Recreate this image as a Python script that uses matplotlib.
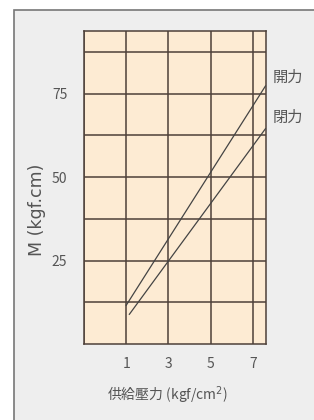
import matplotlib
matplotlib.use('Agg')
import matplotlib.pyplot as plt
from matplotlib.patches import Rectangle

plt.rcParams['font.family'] = ['Noto Sans CJK JP', 'DejaVu Sans']

# 供給壓力 (kgf/cm2) と トルク M (kgf.cm)
open_x = [1.0, 7.6]
open_m = [11.6, 77.3]
close_x = [1.15, 7.6]
close_m = [8.9, 64.5]
labels = ['開力', '閉力']
x_grid = [-1, 1, 3, 5, 7]
x_labels = ['', '1', '3', '5', '7']
y_grid = [12.5, 25, 37.5, 50, 62.5, 75, 87.5]
y_labels = ['', '25', '', '50', '', '75', '']

grid_c = '#4d4039'
text_c = '#555555'

fig = plt.figure(figsize=(3.14, 4.2), dpi=100)
fig.patch.set_facecolor('white')
# 外枠
fig.patches.append(Rectangle((14/314, -0.01), 1.0, 1 - 10/420 + 0.01, transform=fig.transFigure,
                             facecolor='#eeeeee', edgecolor='#777777', linewidth=1.2, zorder=-1))

ax = fig.add_axes([84/314, 1 - 344/420, 181.5/314, 313/420])
ax.set_zorder(1)
ax.set_facecolor('#fdebd3')
ax.set_xlim(-1, 7.6)
ax.set_ylim(0, 93.75)

ax.set_xticks(x_grid, x_labels)
ax.set_yticks(y_grid, y_labels)
ax.grid(color=grid_c, linewidth=1.1)
ax.tick_params(length=0)
ax.tick_params(axis='y', pad=12, labelsize=10, labelcolor=text_c)
ax.tick_params(axis='x', pad=9, labelsize=10, labelcolor=text_c)
for s in ax.spines.values():
    s.set_color(grid_c)
    s.set_linewidth(1.1)

ax.plot(open_x, open_m, color='#444444', linewidth=0.9, zorder=3)
ax.plot(close_x, close_m, color='#444444', linewidth=0.9, zorder=3)

ax.text(7.95, 79.8, labels[0], fontsize=11, color=text_c, va='center', ha='left', clip_on=False)
ax.text(7.95, 67.9, labels[1], fontsize=11, color=text_c, va='center', ha='left', clip_on=False)

fig.text(37/314, 1 - 210/420, 'M (kgf.cm)', rotation=90, fontsize=12.5, color=text_c,
         ha='center', va='center', family=['DejaVu Sans'])
fig.text(167/314, 1 - 395/420, '供給壓力 (kgf/cm$^2$)', fontsize=10, color=text_c,
         ha='center', va='center')

fig.savefig('out.png', dpi=100)
